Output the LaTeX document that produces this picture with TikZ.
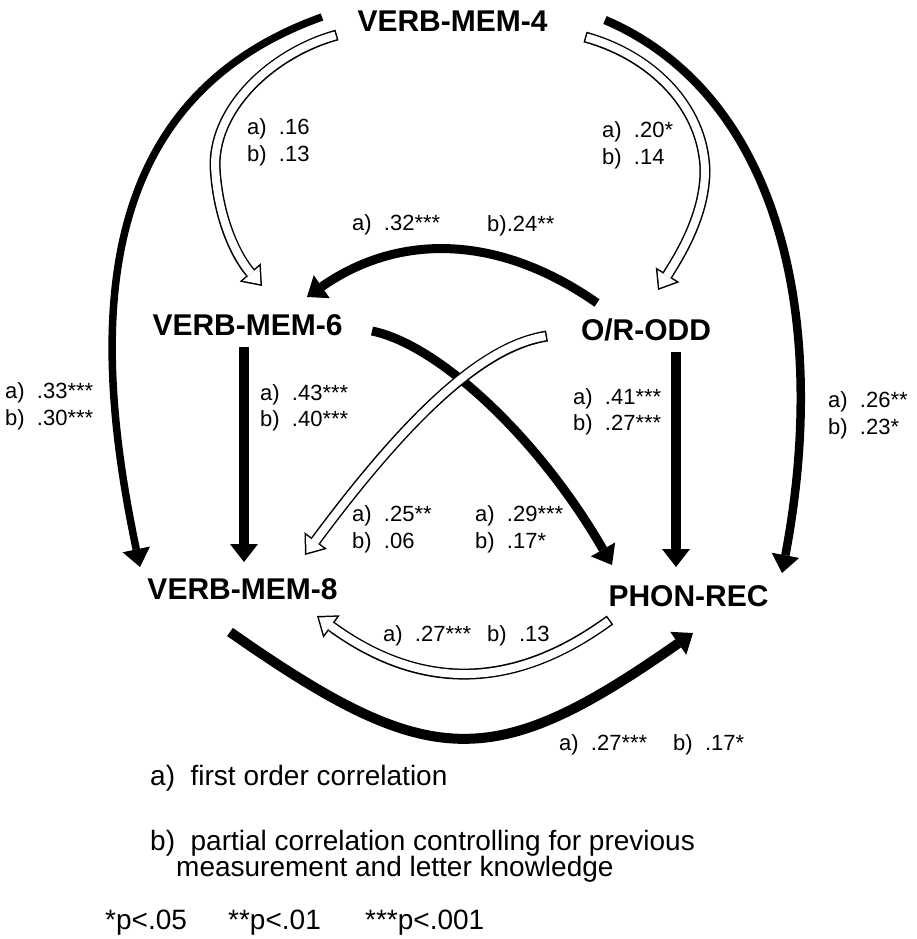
\documentclass[tikz,border=0pt]{standalone}
\usepackage{fontspec}
\setmainfont{Liberation Sans}
\usetikzlibrary{arrows.meta}
\newcommand\hollowpath[1]{\draw[hout] #1; \draw[hin] #1;}
\begin{document}
\begin{tikzpicture}[x=1pt,y=-1pt,
  lbl/.style={anchor=base west, inner sep=0pt, font=\fontsize{22}{26}\selectfont},
  var/.style={anchor=base, inner sep=0pt, font=\fontsize{30}{36}\selectfont\bfseries},
  leg/.style={anchor=base west, inner sep=0pt, font=\fontsize{28}{32}\selectfont},
  blk/.style={line width=#1, -{Triangle[length=18pt,width=28pt,line width=0pt]}},
  hout/.style={line width=11pt, -{Triangle[length=18pt,width=28pt,line width=0pt]}},
  hin/.style={white, line width=8pt, shorten <=1.5pt, shorten >=2.44pt,
    -{Triangle[length=14.06pt,width=21.9pt,line width=0pt]}}]
\useasboundingbox (0,0) rectangle (916,939);

% variables
\node[var] (v4) at (452.5,32) {VERB-MEM-4};
\node[var] (v6) at (247.5,335) {VERB-MEM-6};
\node[var] (or) at (646,340) {O/R-ODD};
\node[var] (v8) at (242.5,599) {VERB-MEM-8};
\node[var] (ph) at (688.5,606) {PHON-REC};

% connector end points
\coordinate (p1s) at (322,17);  \coordinate (p1e) at (140,567);
\coordinate (p2s) at (605,20);  \coordinate (p2e) at (782,573);
\coordinate (p3s) at (597,303); \coordinate (p3e) at (307,297);
\coordinate (p4s) at (372,331); \coordinate (p4e) at (612,565);
\coordinate (p5s) at (244,347); \coordinate (p5e) at (244,562);
\coordinate (p6s) at (676,352); \coordinate (p6e) at (676,567);
\coordinate (p7s) at (230,632); \coordinate (p7e) at (693,633);
\coordinate (h1s) at (337,35);  \coordinate (h1e) at (262,286);
\coordinate (h2s) at (585,37);  \coordinate (h2e) at (658,290);
\coordinate (h3s) at (547,336); \coordinate (h3e) at (305,555);
\coordinate (h4s) at (610,620); \coordinate (h4e) at (317,616);

% thick black connectors
\draw[blk=7.5pt] (p1s) .. controls (90,100) and (90,330) .. (p1e);
\draw[blk=8.5pt] (p2s) .. controls (780,95) and (830,320) .. (p2e);
\draw[blk=9pt] (p3s) .. controls (500,235) and (400,232) .. (p3e);
\draw[blk=9pt] (p4s) .. controls (440,345) and (540,440) .. (p4e);
\draw[blk=9.5pt] (p5s) -- (p5e);
\draw[blk=9.5pt] (p6s) -- (p6e);
\draw[blk=10pt] (p7s) .. controls (430,772) and (493,773) .. (p7e);

% hollow connectors
\hollowpath{(h1s) .. controls (275,52) and (215,105) .. (215,165) .. controls (217,215) and (235,255) .. (h1e)}
\hollowpath{(h2s) .. controls (650,55) and (703,105) .. (705,170) .. controls (705,215) and (680,255) .. (h2e)}
\hollowpath{(h3s) .. controls (490,345) and (420,400) .. (h3e)}
\hollowpath{(h4s) .. controls (510,693) and (417,689) .. (h4e)}

% edge labels
\node[lbl] (l1a) at (247,135) {a)~~.16};
\node[lbl] (l1b) at (247,161) {b)~~.13};
\node[lbl] (l2a) at (602,138) {a)~~.20*};
\node[lbl] (l2b) at (602,164) {b)~~.14};
\node[lbl] (l3a) at (352,230) {a)~~.32***};
\node[lbl] (l3b) at (487,231) {b).24**};
\node[lbl] (l4a) at (5,398) {a)~~.33***};
\node[lbl] (l4b) at (5,425) {b)~~.30***};
\node[lbl] (l5a) at (260,400) {a)~~.43***};
\node[lbl] (l5b) at (260,426) {b)~~.40***};
\node[lbl] (l6a) at (573,404) {a)~~.41***};
\node[lbl] (l6b) at (573,430) {b)~~.27***};
\node[lbl] (l7a) at (828,407) {a)~~.26**};
\node[lbl] (l7b) at (828,434) {b)~~.23*};
\node[lbl] (l8a) at (352,521) {a)~~.25**};
\node[lbl] (l8b) at (352,548) {b)~~.06};
\node[lbl] (l9a) at (475,521) {a)~~.29***};
\node[lbl] (l9b) at (475,548) {b)~~.17*};
\node[lbl] (l10) at (383,641) {a)~~.27***\hspace{16pt}b)~~.13};
\node[lbl] (l11) at (559,750) {a)~~.27***\hspace{26pt}b)~~.17*};

% legend
\node[leg] (lega) at (150,785) {a)~~first order correlation};
\node[leg] (legb) at (150,850) {b)~~partial correlation controlling for previous};
\node[leg] (legc) at (176,876) {measurement and letter knowledge};
\node[leg] (sig1) at (105,929) {*p<.05};
\node[leg] (sig2) at (228,929) {**p<.01};
\node[leg] (sig3) at (365,929) {***p<.001};
\end{tikzpicture}
\end{document}
